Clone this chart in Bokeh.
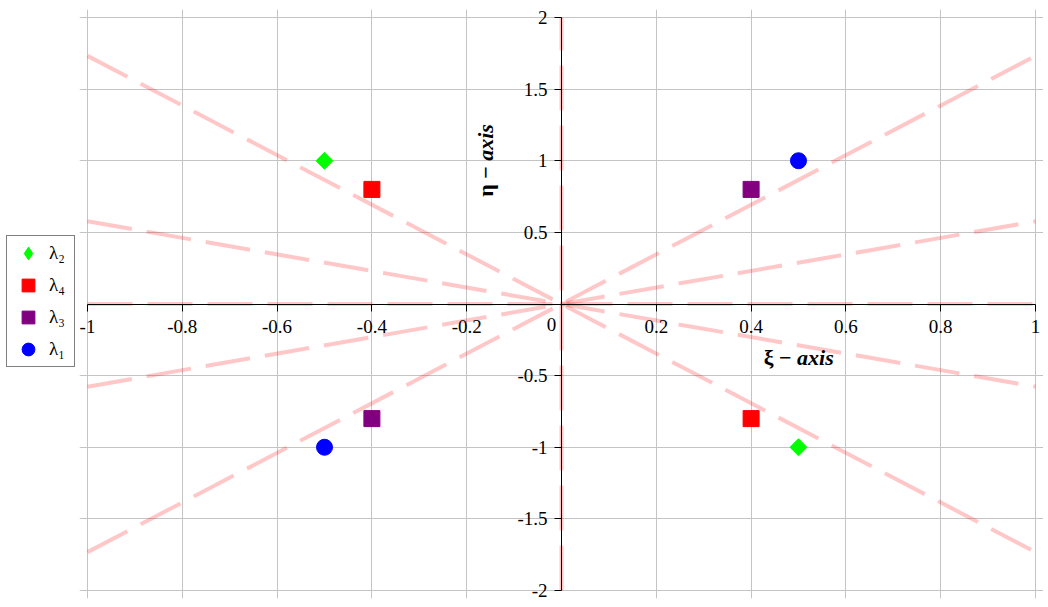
import math
from bokeh.plotting import figure
from bokeh.layouts import row
from bokeh.models import (ColumnDataSource, Legend, LegendItem, Label, FixedTicker)
from bokeh.embed import file_html
from bokeh.resources import INLINE

# ---- data ----
x_ticks = [-1, -0.8, -0.6, -0.4, -0.2, 0.2, 0.4, 0.6, 0.8, 1]
x_tick_labels = ["-1", "-0.8", "-0.6", "-0.4", "-0.2", "0.2", "0.4", "0.6", "0.8", "1"]
y_ticks = [-2, -1.5, -1, -0.5, 0.5, 1, 1.5, 2]
y_tick_labels = ["-2", "-1.5", "-1", "-0.5", "0.5", "1", "1.5", "2"]
x_lim = (-1, 1)
y_lim = (-2, 2)

# dashed reference lines (start point -> end point)
ray_x0 = [-1, 0, -1, -1, -1, -1]
ray_y0 = [0, -2, -0.577, 0.577, -1.732, 1.732]
ray_x1 = [1, 0, 1, 1, 1, 1]
ray_y1 = [0, 2, 0.577, -0.577, 1.732, -1.732]

series_names = ["λ₂", "λ₄", "λ₃", "λ₁"]
series_colors = ["#00FF00", "#FF0000", "#800080", "#0000FF"]
lam2_x = [-0.5, 0.5]
lam2_y = [1.0, -1.0]
lam4_x = [-0.4, 0.4]
lam4_y = [0.8, -0.8]
lam3_x = [0.4, -0.4]
lam3_y = [0.8, -0.8]
lam1_x = [0.5, -0.5]
lam1_y = [1.0, -1.0]

SERIF = "Liberation Serif"

# plot area of 948 x 573 px for the data limits, plus a small pad so that
# the edge tick labels of the axes through the origin are not clipped
W, H, PAD = 948, 573, 8
xpad = (x_lim[1] - x_lim[0]) * PAD / W
ypad = (y_lim[1] - y_lim[0]) * PAD / H

# ---------------- main plot ----------------
p = figure(frame_width=W + 2 * PAD, frame_height=H + 2 * PAD,
           x_range=(x_lim[0] - xpad, x_lim[1] + xpad),
           y_range=(y_lim[0] - ypad, y_lim[1] + ypad),
           output_backend="svg", toolbar_location=None,
           min_border_left=3, min_border_right=0,
           min_border_top=9, min_border_bottom=2)
p.outline_line_color = None
p.background_fill_color = "white"
p.border_fill_color = "white"

# axes through the origin
for ax in (p.xaxis, p.yaxis):
    ax.fixed_location = 0
    ax.axis_line_color = "black"
    ax.major_tick_line_color = "black"
    ax.minor_tick_line_color = None
    ax.major_tick_in = 0
    ax.major_tick_out = 7
    ax.major_label_text_font = SERIF
    ax.major_label_text_font_size = "19px"
    ax.major_label_text_color = "black"

p.xaxis.bounds = x_lim
p.yaxis.bounds = y_lim
p.xaxis.ticker = FixedTicker(ticks=x_ticks)
p.yaxis.ticker = FixedTicker(ticks=y_ticks)
p.xaxis.major_label_overrides = dict(zip(x_ticks, x_tick_labels))
p.yaxis.major_label_overrides = dict(zip(y_ticks, y_tick_labels))
p.xaxis.major_label_standoff = 9
p.yaxis.major_label_standoff = 7

p.xgrid.ticker = FixedTicker(ticks=x_ticks)
p.ygrid.ticker = FixedTicker(ticks=y_ticks)
p.grid.grid_line_color = "#C4C4C4"
p.grid.grid_line_width = 1

# dashed lines
rays = ColumnDataSource(dict(x0=ray_x0, y0=ray_y0, x1=ray_x1, y1=ray_y1))
p.segment("x0", "y0", "x1", "y1", source=rays, line_color="red",
          line_alpha=0.22, line_width=4, line_dash="45 15")

# points
p.scatter(lam2_x, lam2_y, marker="square", size=12, angle=math.pi / 4,
          fill_color=series_colors[0], line_color=series_colors[0])
p.scatter(lam4_x, lam4_y, marker="square", size=16,
          fill_color=series_colors[1], line_color=series_colors[1])
p.scatter(lam3_x, lam3_y, marker="square", size=16,
          fill_color=series_colors[2], line_color=series_colors[2])
p.scatter(lam1_x, lam1_y, marker="circle", size=16,
          fill_color=series_colors[3], line_color=series_colors[3])

# origin label
p.add_layout(Label(x=-0.021, y=-0.143, text="0", text_font=SERIF,
                   text_font_size="19px", text_align="center",
                   text_baseline="middle", text_color="black"))

# axis labels
common = dict(text_font=SERIF, text_font_size="22px", text_color="black",
              text_baseline="middle")
p.add_layout(Label(x=0.497, y=-0.373, text="ξ − ", text_font_style="bold",
                   text_align="right", **common))
p.add_layout(Label(x=0.497, y=-0.373, text="axis",
                   text_font_style="bold italic", text_align="left", **common))
p.add_layout(Label(x=-0.16, y=1.0, text="η − ", text_font_style="bold",
                   text_align="right", angle=math.pi / 2, **common))
p.add_layout(Label(x=-0.16, y=1.0, text="axis",
                   text_font_style="bold italic", text_align="left",
                   angle=math.pi / 2, **common))

# ---------------- legend panel (separate figure at the left) ----------------
lf = figure(width=76, height=600, x_range=(-1, 1), y_range=(-2, 2),
            x_axis_location=None, y_axis_location=None,
            output_backend="svg", toolbar_location=None,
            min_border_left=0, min_border_right=0,
            min_border_top=0, min_border_bottom=0)
lf.outline_line_color = None
lf.grid.visible = False
lf.background_fill_color = "white"
lf.border_fill_color = "white"

l2 = lf.scatter(lam2_x, lam2_y, marker="diamond", size=16, visible=False,
                fill_color=series_colors[0], line_color=series_colors[0])
l4 = lf.scatter(lam4_x, lam4_y, marker="square", size=16, visible=False,
                fill_color=series_colors[1], line_color=series_colors[1])
l3 = lf.scatter(lam3_x, lam3_y, marker="square", size=16, visible=False,
                fill_color=series_colors[2], line_color=series_colors[2])
l1 = lf.scatter(lam1_x, lam1_y, marker="circle", size=16, visible=False,
                fill_color=series_colors[3], line_color=series_colors[3])

legend = Legend(items=[LegendItem(label=n, renderers=[r]) for n, r in
                       zip(series_names, [l2, l4, l3, l1])],
                location=(6, 231))
legend.border_line_color = "black"
legend.border_line_width = 1
legend.background_fill_color = "white"
legend.background_fill_alpha = 1
legend.label_text_font = SERIF
legend.label_text_font_size = "19px"
legend.label_text_color = "black"
legend.glyph_width = 40
legend.glyph_height = 32
legend.label_height = 20
legend.label_width = 24
legend.spacing = 0
legend.padding = 1
legend.margin = 0
legend.label_standoff = 1
lf.add_layout(legend, "center")

layout = row(lf, p)
open("out.html", "w").write(file_html(layout, INLINE))
